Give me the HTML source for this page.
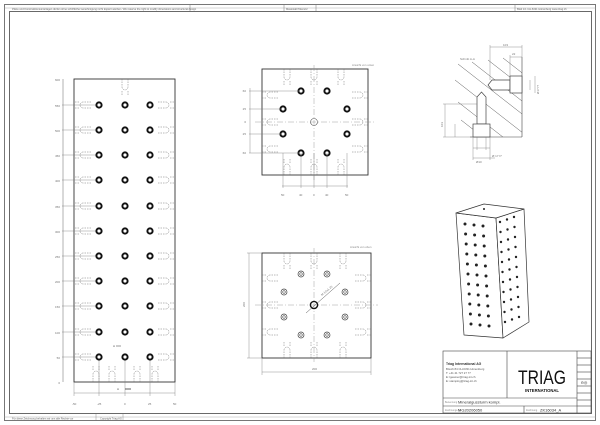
<!DOCTYPE html>
<html><head><meta charset="utf-8"><style>
html,body{margin:0;padding:0;background:#fff;}
svg{display:block;font-family:"Liberation Sans",sans-serif;}
</style></head><body>
<svg width="600" height="425" viewBox="0 0 600 425" xmlns="http://www.w3.org/2000/svg">
<defs>
<g id="h"><circle r="3.6" fill="#111"/><circle r="1.6" fill="#fff"/></g>
<g id="sl" stroke="#777" stroke-width="0.5" fill="none" stroke-dasharray="1.5,1"><path d="M0,-3 H8 M0,3 H8 M12,-3 H16 M12,3 H16 M8,-3 A3,3 0 0 1 8,3"/></g>
<g id="sv" stroke="#777" stroke-width="0.5" fill="none" stroke-dasharray="1.5,1"><path d="M-3,0 V8 M3,0 V8 M-3,12 V16 M3,12 V16 M-3,8 A3,3 0 0 0 3,8"/></g>
<g id="rh"><circle r="3" fill="none" stroke="#444" stroke-width="0.7"/><circle r="1.3" fill="none" stroke="#444" stroke-width="0.6"/></g>
<clipPath id="cp"><rect x="455" y="57" width="67" height="80"/></clipPath>
</defs>
<!-- frame -->
<rect x="4.5" y="4.5" width="591" height="416" fill="none" stroke="#777" stroke-width="1"/>
<rect x="9.5" y="11.5" width="582" height="402" fill="none" stroke="#444" stroke-width="0.8"/>
<line x1="4" y1="8" x2="596" y2="8" stroke="#999" stroke-width="0.4"/>
<line x1="190" y1="5" x2="190" y2="11" stroke="#777" stroke-width="0.5"/>
<line x1="284" y1="5" x2="284" y2="11" stroke="#777" stroke-width="0.5"/>
<line x1="316" y1="5" x2="316" y2="11" stroke="#777" stroke-width="0.5"/>
<line x1="515" y1="5" x2="515" y2="11" stroke="#777" stroke-width="0.5"/>
<text x="12" y="10" font-size="2.6" fill="#666">Pläne und Konstruktionsunterlagen dürfen ohne schriftliche Genehmigung nicht kopiert werden / We reserve the right to modify dimensions and structural design</text>
<text x="286" y="10" font-size="2.6" fill="#666">Massstab/Toleranz</text>
<text x="517" y="10" font-size="2.6" fill="#666">Blatt 1/1 CH-6331 Hünenberg www.triag.ch</text>
<line x1="4" y1="417" x2="596" y2="417" stroke="#999" stroke-width="0.4"/>
<text x="12" y="419.5" font-size="2.6" fill="#666">Für diese Zeichnung behalten wir uns alle Rechte vor</text>
<text x="100" y="419.5" font-size="2.6" fill="#666">Copyright Triag AG</text>
<line x1="96" y1="414" x2="96" y2="421" stroke="#777" stroke-width="0.4"/>
<line x1="123" y1="414" x2="123" y2="421" stroke="#777" stroke-width="0.4"/>

<!-- LEFT VIEW -->
<rect x="74" y="79" width="101" height="303" fill="none" stroke="#333" stroke-width="0.9"/>
<line x1="63" y1="79" x2="63" y2="382" stroke="#666" stroke-width="0.5"/>
<g font-size="3" fill="#777" text-anchor="end">
<text x="60" y="81">600</text><text x="60" y="107">550</text><text x="60" y="132">500</text><text x="60" y="157">450</text><text x="60" y="182">400</text><text x="60" y="208">350</text><text x="60" y="233">300</text><text x="60" y="258">250</text><text x="60" y="283">200</text><text x="60" y="308">150</text><text x="60" y="334">100</text><text x="60" y="359">50</text><text x="60" y="384">0</text>
</g>
<g stroke="#777" stroke-width="0.4">
<line x1="62" y1="105" x2="96" y2="105"/><line x1="62" y1="130" x2="96" y2="130"/><line x1="62" y1="155" x2="96" y2="155"/><line x1="62" y1="180" x2="96" y2="180"/><line x1="62" y1="206" x2="96" y2="206"/><line x1="62" y1="231" x2="96" y2="231"/><line x1="62" y1="256" x2="96" y2="256"/><line x1="62" y1="281" x2="96" y2="281"/><line x1="62" y1="306" x2="96" y2="306"/><line x1="62" y1="332" x2="96" y2="332"/><line x1="62" y1="357" x2="96" y2="357"/>
<line x1="74" y1="382" x2="74" y2="396"/><line x1="99" y1="360" x2="99" y2="396"/><line x1="125" y1="360" x2="125" y2="396"/><line x1="150" y1="360" x2="150" y2="396"/><line x1="175" y1="382" x2="175" y2="396"/>
<line x1="74" y1="393" x2="175" y2="393"/>
</g>
<g font-size="3" fill="#777"><text x="72" y="405">-50</text><text x="97" y="405">-25</text><text x="124" y="405">0</text><text x="148" y="405">25</text><text x="173" y="405">50</text></g>
<g>
<use href="#h" x="99" y="105"/><use href="#h" x="125" y="105"/><use href="#h" x="150" y="105"/>
<use href="#h" x="99" y="130"/><use href="#h" x="125" y="130"/><use href="#h" x="150" y="130"/>
<use href="#h" x="99" y="155"/><use href="#h" x="125" y="155"/><use href="#h" x="150" y="155"/>
<use href="#h" x="99" y="180"/><use href="#h" x="125" y="180"/><use href="#h" x="150" y="180"/>
<use href="#h" x="99" y="206"/><use href="#h" x="125" y="206"/><use href="#h" x="150" y="206"/>
<use href="#h" x="99" y="231"/><use href="#h" x="125" y="231"/><use href="#h" x="150" y="231"/>
<use href="#h" x="99" y="256"/><use href="#h" x="125" y="256"/><use href="#h" x="150" y="256"/>
<use href="#h" x="99" y="281"/><use href="#h" x="125" y="281"/><use href="#h" x="150" y="281"/>
<use href="#h" x="99" y="306"/><use href="#h" x="125" y="306"/><use href="#h" x="150" y="306"/>
<use href="#h" x="99" y="332"/><use href="#h" x="125" y="332"/><use href="#h" x="150" y="332"/>
<use href="#h" x="99" y="357"/><use href="#h" x="125" y="357"/><use href="#h" x="150" y="357"/>
</g>
<g>
<use href="#sl" transform="translate(91,105) scale(-1,1)"/><use href="#sl" transform="translate(158,105)"/>
<use href="#sl" transform="translate(91,130) scale(-1,1)"/><use href="#sl" transform="translate(158,130)"/>
<use href="#sl" transform="translate(91,155) scale(-1,1)"/><use href="#sl" transform="translate(158,155)"/>
<use href="#sl" transform="translate(91,180) scale(-1,1)"/><use href="#sl" transform="translate(158,180)"/>
<use href="#sl" transform="translate(91,206) scale(-1,1)"/><use href="#sl" transform="translate(158,206)"/>
<use href="#sl" transform="translate(91,231) scale(-1,1)"/><use href="#sl" transform="translate(158,231)"/>
<use href="#sl" transform="translate(91,256) scale(-1,1)"/><use href="#sl" transform="translate(158,256)"/>
<use href="#sl" transform="translate(91,281) scale(-1,1)"/><use href="#sl" transform="translate(158,281)"/>
<use href="#sl" transform="translate(91,306) scale(-1,1)"/><use href="#sl" transform="translate(158,306)"/>
<use href="#sl" transform="translate(91,332) scale(-1,1)"/><use href="#sl" transform="translate(158,332)"/>
<use href="#sl" transform="translate(91,357) scale(-1,1)"/><use href="#sl" transform="translate(158,357)"/>
<use href="#sv" transform="translate(125,79)"/>
<use href="#sv" transform="translate(96,382) scale(1,-1)"/><use href="#sv" transform="translate(112,382) scale(1,-1)"/><use href="#sv" transform="translate(137,382) scale(1,-1)"/><use href="#sv" transform="translate(155,382) scale(1,-1)"/>
</g>
<line x1="116" y1="346" x2="121" y2="346" stroke="#333" stroke-width="0.5"/><text x="113" y="347" font-size="3" fill="#555">A</text>
<line x1="125" y1="389" x2="131" y2="389" stroke="#333" stroke-width="0.8"/><text x="117" y="390" font-size="3" fill="#555">A</text>

<!-- TOP VIEW -->
<text x="352" y="66" font-size="2.8" fill="#888">Ansicht von unten</text>
<rect x="262" y="69" width="106" height="106" fill="none" stroke="#333" stroke-width="0.9"/>
<g stroke="#888" stroke-width="0.4" stroke-dasharray="6,2,1,2"><line x1="255" y1="122" x2="375" y2="122"/><line x1="314" y1="65" x2="314" y2="180"/></g>
<circle cx="314" cy="122" r="3.5" fill="none" stroke="#555" stroke-width="0.6"/>
<use href="#h" x="301" y="91"/><use href="#h" x="327" y="91"/><use href="#h" x="283" y="109"/><use href="#h" x="347" y="109"/>
<use href="#h" x="283" y="134"/><use href="#h" x="347" y="134"/><use href="#h" x="301" y="153"/><use href="#h" x="327" y="153"/>
<use href="#sv" transform="translate(287,69)"/><use href="#sv" transform="translate(314,69)"/><use href="#sv" transform="translate(341,69)"/>
<use href="#sv" transform="translate(287,175) scale(1,-1)"/><use href="#sv" transform="translate(314,175) scale(1,-1)"/><use href="#sv" transform="translate(341,175) scale(1,-1)"/>
<use href="#sl" transform="translate(262,95) scale(-1,1) translate(-16,0)"/><use href="#sl" transform="translate(262,122) scale(-1,1) translate(-16,0)"/><use href="#sl" transform="translate(262,149) scale(-1,1) translate(-16,0)"/>
<use href="#sl" transform="translate(352,95)"/><use href="#sl" transform="translate(352,122)"/><use href="#sl" transform="translate(352,149)"/>
<g stroke="#777" stroke-width="0.4"><line x1="250" y1="88" x2="250" y2="153"/><line x1="249" y1="91" x2="300" y2="91"/><line x1="249" y1="109" x2="282" y2="109"/><line x1="249" y1="134" x2="282" y2="134"/><line x1="249" y1="153" x2="300" y2="153"/>
<line x1="283" y1="153" x2="283" y2="188"/><line x1="301" y1="153" x2="301" y2="188"/><line x1="314" y1="153" x2="314" y2="188"/><line x1="327" y1="153" x2="327" y2="188"/><line x1="347" y1="153" x2="347" y2="188"/><line x1="282" y1="186" x2="348" y2="186"/></g>
<g font-size="3" fill="#777" text-anchor="end"><text x="246" y="92">60</text><text x="246" y="110">25</text><text x="246" y="123">0</text><text x="246" y="135">25</text><text x="246" y="154">60</text></g>
<g font-size="3" fill="#777"><text x="281" y="196">50</text><text x="299" y="196">40</text><text x="313" y="196">0</text><text x="325" y="196">40</text><text x="345" y="196">50</text></g>

<!-- BOTTOM VIEW -->
<text x="350" y="248" font-size="2.8" fill="#888">Ansicht von oben</text>
<rect x="262" y="253" width="109" height="105" fill="none" stroke="#333" stroke-width="0.9"/>
<g stroke="#888" stroke-width="0.4" stroke-dasharray="6,2,1,2"><line x1="255" y1="305" x2="378" y2="305"/><line x1="314" y1="248" x2="314" y2="362"/></g>
<circle cx="314" cy="305" r="3.6" fill="none" stroke="#111" stroke-width="1.4"/>
<line x1="306" y1="313" x2="340" y2="283" stroke="#555" stroke-width="0.5"/>
<text x="322" y="296" font-size="3" fill="#777" transform="rotate(-40 322 296)">M 10x1.25</text>
<use href="#rh" x="301" y="274"/><use href="#rh" x="327" y="274"/><use href="#rh" x="284" y="292"/><use href="#rh" x="345" y="292"/>
<use href="#rh" x="284" y="317"/><use href="#rh" x="345" y="317"/><use href="#rh" x="301" y="335"/><use href="#rh" x="327" y="335"/>
<use href="#sv" transform="translate(287,253)"/><use href="#sv" transform="translate(314,253)"/><use href="#sv" transform="translate(343,253)"/>
<use href="#sv" transform="translate(287,358) scale(1,-1)"/><use href="#sv" transform="translate(314,358) scale(1,-1)"/><use href="#sv" transform="translate(343,358) scale(1,-1)"/>
<use href="#sl" transform="translate(262,278) scale(-1,1) translate(-16,0)"/><use href="#sl" transform="translate(262,305) scale(-1,1) translate(-16,0)"/><use href="#sl" transform="translate(262,332) scale(-1,1) translate(-16,0)"/>
<use href="#sl" transform="translate(355,278)"/><use href="#sl" transform="translate(355,305)"/><use href="#sl" transform="translate(355,332)"/>
<g stroke="#777" stroke-width="0.4"><line x1="249" y1="253" x2="249" y2="358"/><line x1="247" y1="253" x2="262" y2="253"/><line x1="247" y1="358" x2="262" y2="358"/>
<line x1="262" y1="358" x2="262" y2="375"/><line x1="371" y1="358" x2="371" y2="375"/><line x1="262" y1="372" x2="371" y2="372"/></g>
<text x="245" y="307" font-size="3" fill="#777" transform="rotate(-90 245 307)">200</text>
<text x="312" y="370" font-size="3" fill="#777">200</text>

<!-- SECTION DETAIL -->
<g stroke="#555" stroke-width="0.5" clip-path="url(#cp)">
<line x1="472" y1="62" x2="572" y2="140"/><line x1="458" y1="64" x2="558" y2="142"/>
<line x1="488" y1="60" x2="588" y2="138"/><line x1="503" y1="58" x2="603" y2="136"/>
<line x1="455" y1="80" x2="555" y2="158"/><line x1="458" y1="102" x2="558" y2="180"/>
<line x1="461" y1="120" x2="561" y2="198"/>
</g>
<g stroke="#444" stroke-width="0.6" fill="none">
<line x1="522" y1="57" x2="522" y2="137"/>
<line x1="470" y1="137" x2="522" y2="137"/>
</g>
<g stroke="#444" stroke-width="0.7" fill="#fff">
<path d="M492,80 H510 V90 H492 L488,85 Z"/>
<rect x="510" y="76" width="12" height="17"/>
<path d="M477,97 V124 H486 V97 L481.5,92 Z"/>
<rect x="473" y="124" width="17" height="13"/>
</g>
<g stroke="#777" stroke-width="0.4" fill="none">
<line x1="490" y1="47" x2="522" y2="47"/><line x1="490" y1="45" x2="490" y2="80"/><line x1="522" y1="45" x2="522" y2="57"/>
<line x1="510" y1="57" x2="522" y2="57"/><line x1="510" y1="55" x2="510" y2="76"/>
<line x1="535" y1="76" x2="535" y2="93"/><line x1="530" y1="80" x2="530" y2="90"/>
<line x1="445" y1="104" x2="445" y2="137"/><line x1="443" y1="104" x2="477" y2="104"/><line x1="443" y1="137" x2="473" y2="137"/>
<line x1="455" y1="124" x2="455" y2="137"/>
<line x1="473" y1="137" x2="473" y2="160"/><line x1="490" y1="137" x2="490" y2="160"/><line x1="477" y1="137" x2="477" y2="150"/><line x1="486" y1="137" x2="486" y2="150"/>
<line x1="473" y1="148" x2="490" y2="148"/><line x1="473" y1="158" x2="495" y2="158"/>
</g>
<g font-size="3" fill="#777"><text x="503" y="46">103</text><text x="512" y="55">22</text><text x="460" y="60">Schnitt A-A</text><text x="492" y="157">Ø 17 f7</text><text x="476" y="163">Ø10</text></g>
<text x="539" y="94" font-size="3" fill="#777" transform="rotate(-90 539 94)">Ø17 f7</text>
<text x="443" y="127" font-size="3" fill="#777" transform="rotate(-90 443 127)">103</text>

<!-- ISO VIEW -->
<g stroke="#333" stroke-width="0.7" fill="#fff" stroke-linejoin="round">
<polygon points="456,213 496,218 503,338 464,335"/>
<polygon points="496,218 524,209 529,322 503,338"/>
<polygon points="456,213 484,204 524,209 496,218"/>
</g>
<circle cx="484" cy="209" r="1" fill="#222"/>
<g fill="#222">
<g transform="translate(465,224)">
<circle cx="0" cy="0" r="1.5"/><circle cx="9" cy="1" r="1.5"/><circle cx="18" cy="2" r="1.5"/>
<circle cx="0.6" cy="10" r="1.5"/><circle cx="9.6" cy="11" r="1.5"/><circle cx="18.6" cy="12" r="1.5"/>
<circle cx="1.2" cy="20" r="1.5"/><circle cx="10.2" cy="21" r="1.5"/><circle cx="19.2" cy="22" r="1.5"/>
<circle cx="1.8" cy="30" r="1.5"/><circle cx="10.8" cy="31" r="1.5"/><circle cx="19.8" cy="32" r="1.5"/>
<circle cx="2.4" cy="40" r="1.5"/><circle cx="11.4" cy="41" r="1.5"/><circle cx="20.4" cy="42" r="1.5"/>
<circle cx="3" cy="50" r="1.5"/><circle cx="12" cy="51" r="1.5"/><circle cx="21" cy="52" r="1.5"/>
<circle cx="3.6" cy="60" r="1.5"/><circle cx="12.6" cy="61" r="1.5"/><circle cx="21.6" cy="62" r="1.5"/>
<circle cx="4.2" cy="70" r="1.5"/><circle cx="13.2" cy="71" r="1.5"/><circle cx="22.2" cy="72" r="1.5"/>
<circle cx="4.8" cy="80" r="1.5"/><circle cx="13.8" cy="81" r="1.5"/><circle cx="22.8" cy="82" r="1.5"/>
<circle cx="5.4" cy="90" r="1.5"/><circle cx="14.4" cy="91" r="1.5"/><circle cx="23.4" cy="92" r="1.5"/>
<circle cx="6" cy="100" r="1.5"/><circle cx="15" cy="101" r="1.5"/><circle cx="24" cy="102" r="1.5"/>
</g>
<g transform="translate(500,222)">
<circle cx="0" cy="0" r="1.2"/><circle cx="7" cy="-2.5" r="1.2"/><circle cx="14" cy="-5" r="1.2"/>
<circle cx="0.5" cy="10" r="1.2"/><circle cx="7.5" cy="7.5" r="1.2"/><circle cx="14.5" cy="5" r="1.2"/>
<circle cx="1" cy="20" r="1.2"/><circle cx="8" cy="17.5" r="1.2"/><circle cx="15" cy="15" r="1.2"/>
<circle cx="1.5" cy="30" r="1.2"/><circle cx="8.5" cy="27.5" r="1.2"/><circle cx="15.5" cy="25" r="1.2"/>
<circle cx="2" cy="40" r="1.2"/><circle cx="9" cy="37.5" r="1.2"/><circle cx="16" cy="35" r="1.2"/>
<circle cx="2.5" cy="50" r="1.2"/><circle cx="9.5" cy="47.5" r="1.2"/><circle cx="16.5" cy="45" r="1.2"/>
<circle cx="3" cy="60" r="1.2"/><circle cx="10" cy="57.5" r="1.2"/><circle cx="17" cy="55" r="1.2"/>
<circle cx="3.5" cy="70" r="1.2"/><circle cx="10.5" cy="67.5" r="1.2"/><circle cx="17.5" cy="65" r="1.2"/>
<circle cx="4" cy="80" r="1.2"/><circle cx="11" cy="77.5" r="1.2"/><circle cx="18" cy="75" r="1.2"/>
<circle cx="4.5" cy="90" r="1.2"/><circle cx="11.5" cy="87.5" r="1.2"/><circle cx="18.5" cy="85" r="1.2"/>
<circle cx="5" cy="100" r="1.2"/><circle cx="12" cy="97.5" r="1.2"/><circle cx="19" cy="95" r="1.2"/>
</g>
</g>

<!-- TITLE BLOCK -->
<g stroke="#444" stroke-width="0.6" fill="none">
<rect x="443" y="351" width="148" height="62"/>
<line x1="507" y1="351" x2="507" y2="398"/>
<line x1="577" y1="351" x2="577" y2="413"/>
<line x1="443" y1="398" x2="577" y2="398"/>
<line x1="443" y1="406" x2="577" y2="406"/>
<line x1="524" y1="406" x2="524" y2="413"/>
<line x1="577" y1="358" x2="591" y2="358"/><line x1="577" y1="365" x2="591" y2="365"/><line x1="577" y1="372" x2="591" y2="372"/><line x1="577" y1="379" x2="591" y2="379"/><line x1="577" y1="386" x2="591" y2="386"/><line x1="577" y1="393" x2="591" y2="393"/><line x1="577" y1="400" x2="591" y2="400"/><line x1="577" y1="406" x2="591" y2="406"/>
</g>
<text x="446" y="365" font-size="3.4" font-weight="bold" fill="#333">Triag International AG</text>
<g font-size="2.8" fill="#555"><text x="446" y="370">Bösch 84 CH-6331 Hünenberg</text><text x="446" y="374">T: +41 41 727 27 77</text><text x="446" y="378">E: lgeamer@triag-int.ch</text><text x="446" y="382">E: stamping@triag-int.ch</text></g>
<text x="542" y="384" font-size="19" text-anchor="middle" fill="#111" textLength="48" lengthAdjust="spacingAndGlyphs">TRIAG</text>
<text x="542" y="392" font-size="4.2" font-weight="bold" text-anchor="middle" fill="#111">INTERNATIONAL</text>
<g font-size="2.4" fill="#888"><text x="445" y="403">Benennung</text><text x="445" y="411">Zeichnungs-Nr.</text><text x="526" y="411">Zeichnung</text></g>
<text x="458" y="403.5" font-size="4" fill="#333">Mineralgussturm kompl.</text>
<text x="458" y="411.5" font-size="4" fill="#333">MG20206050</text>
<text x="540" y="411.5" font-size="4" fill="#333">ZK16034_A</text>
<text x="584" y="384" font-size="4" text-anchor="middle" fill="#333">⊖◎</text>
</svg>
</body></html>
